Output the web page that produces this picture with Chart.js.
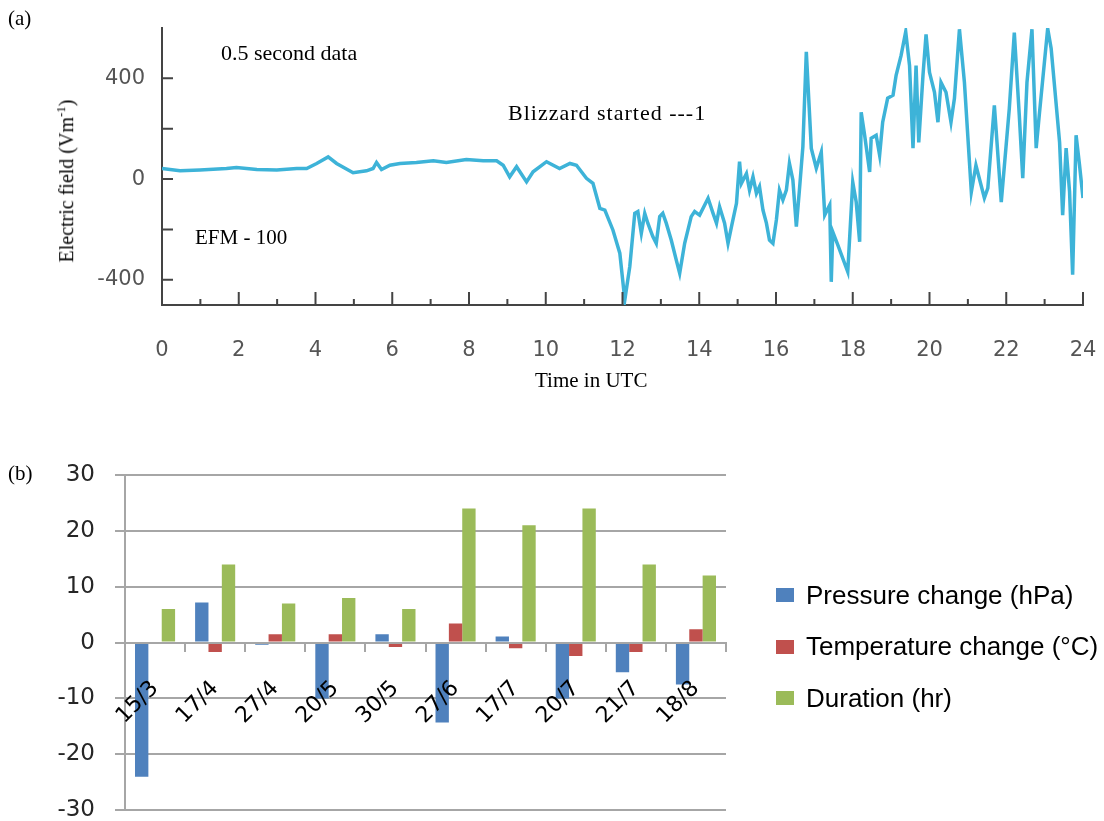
<!DOCTYPE html>
<html>
<head>
<meta charset="utf-8">
<script src="https://cdn.jsdelivr.net/npm/chart.js@4"></script>
<style>
  body { margin: 0; background: #fff; overflow: hidden; width: 1104px; height: 821px; position: relative; }
  canvas { position: absolute; left: 0; }
  .t { position: absolute; font-family: "Liberation Serif", serif; font-size: 21px; color: #000; white-space: nowrap; line-height: 1; }
  #legendB { position: absolute; left: 776px; top: 582px; font-family: "Liberation Sans", sans-serif; font-size: 26px; color: #000; }
  #legendB .lg { display: flex; align-items: center; height: 26px; margin-bottom: 25.7px; white-space: nowrap; }
  #legendB .key { width: 18px; height: 14px; margin-right: 12px; flex: none; }
</style>
</head>
<body>
<canvas id="chartA" width="1104" height="400" style="top:0"></canvas>
<canvas id="chartB" width="1104" height="404" style="top:440px"></canvas>
<div id="legendB"></div>

<div class="t" style="left:8px;top:8px">(a)</div>
<div class="t" style="left:221px;top:42px;font-size:22px">0.5 second data</div>
<div class="t" style="left:508px;top:102px;font-size:22px;letter-spacing:1px">Blizzard started ---1</div>
<div class="t" style="left:195px;top:227px">EFM - 100</div>
<div class="t" style="left:535px;top:370px">Time in UTC</div>
<div class="t" style="left:65px;top:181px;font-size:20px;transform:translate(-50%,-50%) rotate(-90deg)">Electric field (Vm<sup style="font-size:13px">-1</sup>)</div>
<div class="t" style="left:8px;top:463px">(b)</div>

<script>
// (a) electric field trace
const hours = [0, 0.47, 0.99, 1.68, 1.94, 2.47, 2.99, 3.51, 3.77, 4.03, 4.33, 4.55, 4.98, 5.33, 5.5, 5.59, 5.72, 5.94,
  6.2, 6.63, 7.07, 7.41, 7.93, 8.37, 8.72, 8.89, 9.06, 9.24, 9.5, 9.67, 10.02, 10.36, 10.63, 10.8, 11.06, 11.23,
  11.41, 11.54, 11.75, 11.93, 12.06, 12.19, 12.32, 12.4, 12.49, 12.58, 12.66, 12.79, 12.88, 12.97, 13.05, 13.14,
  13.27, 13.4, 13.49, 13.62, 13.79, 13.88, 14.01, 14.23, 14.36, 14.45, 14.53, 14.66, 14.75, 14.84, 14.97, 15.05,
  15.1, 15.23, 15.31, 15.4, 15.49, 15.57, 15.66, 15.75, 15.83, 15.92, 16.01, 16.09, 16.18, 16.27, 16.35, 16.44,
  16.53, 16.61, 16.7, 16.79, 16.92, 17.05, 17.18, 17.27, 17.4, 17.44, 17.48, 17.61, 17.87, 18.0, 18.09, 18.18,
  18.22, 18.31, 18.44, 18.48, 18.61, 18.7, 18.78, 18.91, 19.05, 19.13, 19.26, 19.38, 19.48, 19.57, 19.65, 19.72,
  19.83, 19.91, 20.0, 20.13, 20.22, 20.3, 20.43, 20.56, 20.65, 20.78, 20.91, 21.09, 21.21, 21.43, 21.52, 21.69,
  21.87, 22.08, 22.21, 22.34, 22.43, 22.54, 22.67, 22.78, 22.86, 23.08, 23.17, 23.39, 23.47, 23.56, 23.65, 23.73,
  23.82, 23.91, 24.0];
const field = [42, 33, 36, 42, 46, 38, 36, 42, 42, 62, 88, 62, 25, 33, 42, 66, 38, 55,
  62, 66, 73, 66, 78, 73, 73, 55, 9, 49, -11, 29, 69, 42, 62, 55, 3, -17,
  -116, -123, -202, -294, -480, -347, -136, -129, -215, -136, -175, -228, -255, -149, -136, -175,
  -242, -321, -374, -255, -149, -129, -143, -76, -136, -175, -110, -175, -255, -189, -96, 69,
  -17, 22, -44, 9, -57, -30, -123, -175, -242, -255, -162, -44, -83, -44, 62, -4,
  -189, -44, 128, 505, 122, 43, 107, -143, -103, -408, -210, -261, -368, -12, -91, -249,
  265, 174, 28, 162, 174, 95, 226, 321, 333, 412, 491, 585, 451, 123, 451, 146,
  412, 575, 424, 345, 226, 384, 345, 226, 321, 595, 384, -51, 55, -75, -36, 293,
  -91, 281, 582, 253, 4, 384, 595, 123, 253, 598, 519, 146, -143, 123, -51, -380,
  174, 55, -75];

// (b) blizzard events
const dates = ['15/3', '17/4', '27/4', '20/5', '30/5', '27/6', '17/7', '20/7', '21/7', '18/8'];
const pressure = [-24, 7.2, -0.4, -10, 1.5, -14.3, 1.1, -10, -5.3, -7.5];
const temperature = [0.2, -1.7, 1.5, 1.5, -0.8, 3.4, -1.0, -2.4, -1.7, 2.4];
const duration = [6, 14, 7, 8, 6, 24, 21, 24, 14, 12];
const seriesNames = ['Pressure change (hPa)', 'Temperature change (\u00B0C)', 'Duration (hr)'];

const axisColor = '#444';
const gridColor = '#a6a6a6';

// hand-drawn style ticks pointing into the plot
const inwardTicks = {
  id: 'inwardTicks',
  afterDraw(chart) {
    const { ctx, chartArea, scales: { x, y } } = chart;
    ctx.save();
    ctx.strokeStyle = axisColor;
    ctx.lineWidth = 2;
    ctx.beginPath();
    x.ticks.forEach(t => {
      const px = x.getPixelForValue(t.value);
      const len = t.value % 2 === 0 ? 13 : 6;
      ctx.moveTo(px, chartArea.bottom);
      ctx.lineTo(px, chartArea.bottom - len);
    });
    y.ticks.forEach(t => {
      if (t.value % 200 !== 0 || Math.abs(t.value) > 400) return;
      const py = y.getPixelForValue(t.value);
      ctx.moveTo(chartArea.left, py);
      ctx.lineTo(chartArea.left + 11, py);
    });
    ctx.stroke();
    ctx.restore();
  }
};

new Chart(document.getElementById('chartA'), {
  type: 'line',
  data: {
    datasets: [{
      data: hours.map((h, i) => ({ x: h, y: field[i] })),
      borderColor: '#3db3d8',
      borderWidth: 3.5,
      pointRadius: 0,
      tension: 0
    }]
  },
  options: {
    responsive: false,
    animation: false,
    layout: { padding: { top: 28, right: 21, left: 0, bottom: 0 } },
    plugins: { legend: { display: false }, tooltip: { enabled: false } },
    scales: {
      x: {
        type: 'linear', min: 0, max: 24,
        grid: { drawOnChartArea: false, tickLength: 30, tickColor: 'rgba(0,0,0,0)' },
        border: { color: axisColor, width: 2 },
        ticks: {
          stepSize: 1, autoSkip: false, maxRotation: 0, padding: 3,
          color: '#555', font: { family: 'DejaVu Sans', size: 21 },
          callback: v => (v % 2 === 0 ? v : '')
        },
        afterFit: s => { s.height = 95; }
      },
      y: {
        min: -500, max: 600,
        grid: { drawOnChartArea: false, tickLength: 14, tickColor: 'rgba(0,0,0,0)' },
        border: { color: axisColor, width: 2 },
        ticks: {
          stepSize: 200, padding: 3,
          color: '#555', font: { family: 'DejaVu Sans', size: 21 },
          callback: v => (v % 400 === 0 ? v : '')
        },
        afterFit: s => { s.width = 162; }
      }
    }
  },
  plugins: [inwardTicks]
});

// legend for (b) built from the chart's datasets, placed right of the plot
const htmlLegend = {
  id: 'htmlLegend',
  afterUpdate(chart) {
    const box = document.getElementById('legendB');
    box.innerHTML = '';
    chart.data.datasets.forEach(ds => {
      const row = document.createElement('div');
      row.className = 'lg';
      const key = document.createElement('span');
      key.className = 'key';
      key.style.background = ds.backgroundColor;
      const txt = document.createElement('span');
      txt.textContent = ds.label;
      row.append(key, txt);
      box.append(row);
    });
  }
};

new Chart(document.getElementById('chartB'), {
  type: 'bar',
  data: {
    labels: dates,
    datasets: [
      { label: seriesNames[0], data: pressure, backgroundColor: '#4f81bd' },
      { label: seriesNames[1], data: temperature, backgroundColor: '#c0504d' },
      { label: seriesNames[2], data: duration, backgroundColor: '#9bbb59' }
    ]
  },
  options: {
    responsive: false,
    animation: false,
    layout: { padding: { top: 35, bottom: 30, left: 0, right: 378 } },
    datasets: { bar: { barPercentage: 1, categoryPercentage: 0.667 } },
    plugins: { legend: { display: false }, tooltip: { enabled: false } },
    scales: {
      x: {
        position: { y: 0 },
        grid: { offset: true, drawOnChartArea: false, tickLength: 8, color: gridColor, lineWidth: 2 },
        border: { color: gridColor, width: 2, z: 1 },
        ticks: {
          z: 1,
          autoSkip: false, minRotation: 45, maxRotation: 45, padding: 25,
          color: '#000', font: { family: 'DejaVu Sans', size: 22 }
        }
      },
      y: {
        min: -30, max: 30,
        grid: { color: gridColor, lineWidth: 2, tickLength: 10 },
        border: { color: gridColor, width: 2 },
        ticks: { stepSize: 10, padding: 20, color: '#262626', font: { family: 'DejaVu Sans', size: 23 } },
        afterFit: s => { s.width = 125; }
      }
    }
  },
  plugins: [htmlLegend]
});
</script>
</body>
</html>
